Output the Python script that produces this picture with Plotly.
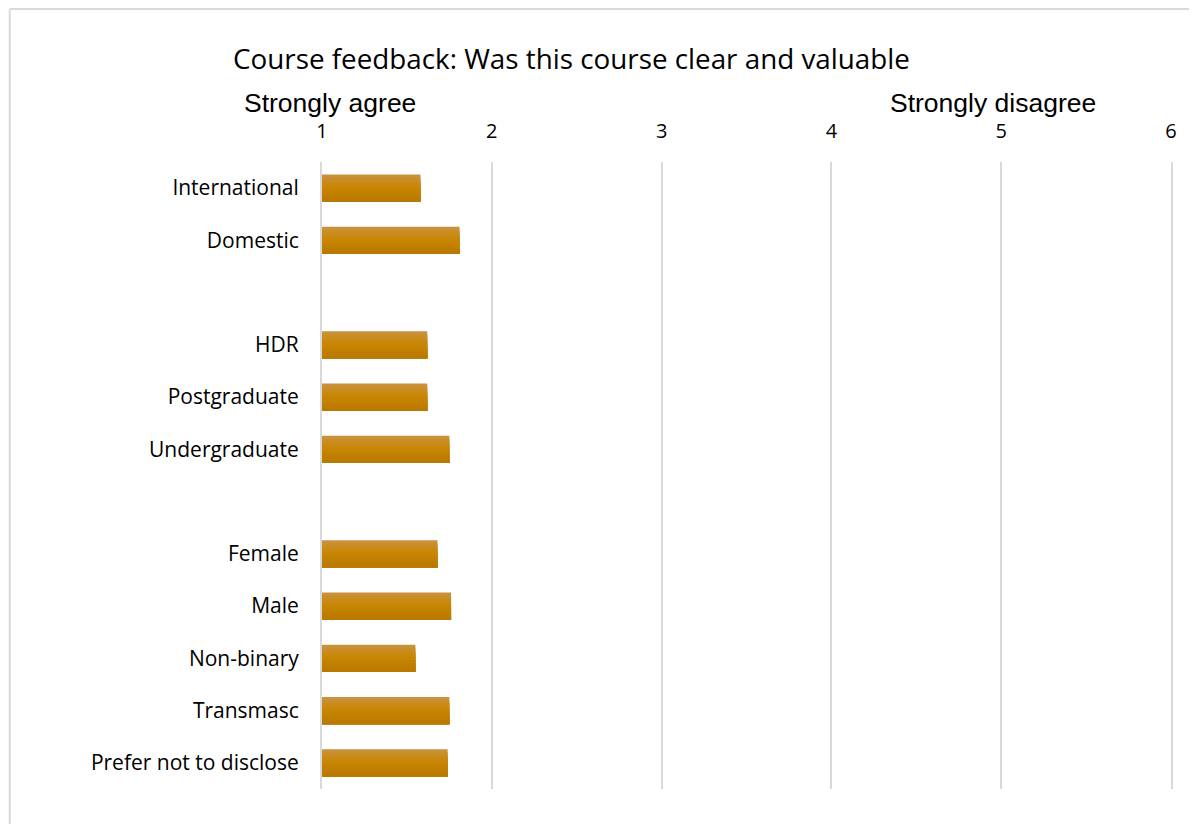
import plotly.graph_objects as go

# ---- data ----
categories = ["International", "Domestic", " ", "HDR", "Postgraduate", "Undergraduate", "  ",
              "Female", "Male", "Non-binary", "Transmasc", "Prefer not to disclose"]
bar_categories = ["International", "Domestic", "HDR", "Postgraduate", "Undergraduate",
                  "Female", "Male", "Non-binary", "Transmasc", "Prefer not to disclose"]
bar_values = [1.58, 1.81, 1.62, 1.62, 1.75, 1.68, 1.76, 1.55, 1.75, 1.74]
tick_values = [1, 2, 3, 4, 5, 6]
tick_labels = ["1", "2", "3", "4", "5", "6"]
title_text = "Course feedback: Was this course clear and valuable"
left_label = "Strongly agree"
right_label = "Strongly disagree"

OFF = 8  # page body margin
W, H = 1197 - 2 * OFF, 832 - 2 * OFF
# target plot area in window pixels: x 322..1173, y 162..789
L, T = 322 - OFF, 162 - OFF
R = W - (1173 - OFF)
B = H - (789 - OFF)
pw, ph = W - L - R, H - T - B


def px(x):
    return (x - OFF - L) / pw


def py(y):
    return (H - B - (y - OFF)) / ph


# gradient stops (top -> bottom)
stops = [(0.0, (201, 146, 66)), (0.45, (201, 134, 2)), (1.0, (184, 119, 0))]


def colat(t):
    for (t0, c0), (t1, c1) in zip(stops[:-1], stops[1:]):
        if t0 <= t <= t1:
            f = (t - t0) / (t1 - t0)
            return "rgb(%d,%d,%d)" % tuple(round(a + (b - a) * f) for a, b in zip(c0, c1))
    return "rgb(%d,%d,%d)" % stops[-1][1]


fig = go.Figure()
thick = 0.52
N = 9
sw = thick / N
for i in range(N):
    fig.add_trace(go.Bar(
        y=bar_categories, x=[v - 1 for v in bar_values], base=1,
        orientation="h", width=thick - i * sw, offset=-thick / 2 + i * sw,
        marker=dict(color=colat((i + 0.5) / N), line=dict(width=0)),
        showlegend=False, hoverinfo="skip",
    ))

FONT = "Open Sans"
border = "#D9D9D9"
fig.update_layout(
    width=W, height=H, barmode="overlay",
    margin=dict(l=L, r=R, t=T, b=B, pad=0),
    paper_bgcolor="white", plot_bgcolor="white",
    font=dict(family=FONT, size=21, color="#000000"),
    xaxis=dict(range=[1, 6], side="top", tickvals=tick_values, ticktext=tick_labels,
               showgrid=True, gridcolor="#D9D9D9", gridwidth=2, zeroline=False,
               showline=False, ticks="", tickfont=dict(family=FONT, size=20, color="#000"),
               ticklabelstandoff=19, fixedrange=True),
    yaxis=dict(type="category", categoryorder="array", categoryarray=categories,
               autorange="reversed", showgrid=False, zeroline=False,
               showline=True, mirror=True, linecolor="#D9D9D9", linewidth=2,
               ticks="", tickfont=dict(family=FONT, size=21, color="#000"),
               ticklabelstandoff=17),
    shapes=[
        dict(type="line", xref="paper", yref="paper", x0=px(9), x1=px(9), y0=py(840), y1=py(9),
             line=dict(color=border, width=2)),
        dict(type="line", xref="paper", yref="paper", x0=px(9), x1=px(1200), y0=py(9), y1=py(9),
             line=dict(color=border, width=2)),
    ],
    annotations=[
        dict(text=title_text, xref="paper", yref="paper", x=px(572), y=py(58),
             showarrow=False, xanchor="center", yanchor="middle",
             font=dict(family=FONT, size=27.8, color="#000")),
        dict(text=left_label, xref="paper", yref="paper", x=px(330), y=py(103),
             showarrow=False, xanchor="center", yanchor="middle",
             font=dict(family="Liberation Sans", size=26.5, color="#000")),
        dict(text=right_label, xref="paper", yref="paper", x=px(995), y=py(103),
             showarrow=False, xanchor="center", yanchor="middle",
             font=dict(family="Liberation Sans", size=26.5, color="#000")),
    ],
)

fig.write_html("out.html")
